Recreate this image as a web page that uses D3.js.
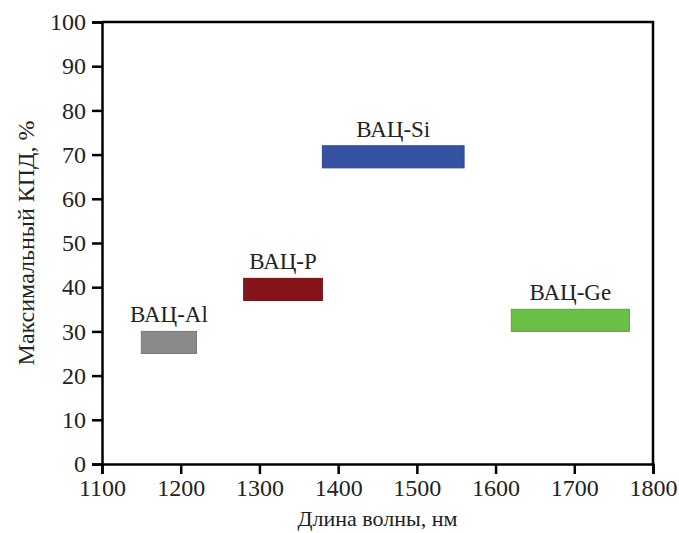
<!DOCTYPE html>
<html>
<head>
<meta charset="utf-8">
<script src="https://cdn.jsdelivr.net/npm/d3@7"></script>
</head>
<body style="margin:0">
<script>
// data
var names = ["ВАЦ-Al", "ВАЦ-P", "ВАЦ-Si", "ВАЦ-Ge"];
var waveFrom = [1150, 1280, 1380, 1620];
var waveTo = [1220, 1380, 1560, 1770];
var effLow = [25, 37, 67, 30];
var effHigh = [30, 42, 72, 35];
var colors = ["#8a8a8a", "#85141a", "#3552a3", "#6abf45"];
var xTicks = [1100, 1200, 1300, 1400, 1500, 1600, 1700, 1800];
var yTicks = [0, 10, 20, 30, 40, 50, 60, 70, 80, 90, 100];

var W = 679, H = 533;
var pLeft = 102, pRight = 653, pTop = 22, pBottom = 464;

var svg = d3.select("body").append("svg")
    .attr("width", W)
    .attr("height", H)
    .attr("font-family", "Liberation Serif")
    .style("display", "block");

var x = d3.scaleLinear().domain([1100, 1800]).range([pLeft, pRight]);
var y = d3.scaleLinear().domain([0, 100]).range([pBottom, pTop]);

// frame lines (top and right)
svg.append("path")
    .attr("d", "M" + pLeft + "," + pTop + "H" + pRight + "V" + pBottom)
    .attr("fill", "none")
    .attr("stroke", "#000")
    .attr("stroke-width", 2.5);

var xAxis = svg.append("g")
    .attr("transform", "translate(0," + pBottom + ")")
    .call(d3.axisBottom(x).tickValues(xTicks).tickSize(10).tickPadding(5).tickFormat(d3.format("d")));

var yAxis = svg.append("g")
    .attr("transform", "translate(" + pLeft + ",0)")
    .call(d3.axisLeft(y).tickValues(yTicks).tickSize(10).tickPadding(6).tickFormat(d3.format("d")));

[xAxis, yAxis].forEach(function(a) {
  a.attr("font-family", "Liberation Serif").attr("font-size", 24);
  a.select(".domain").attr("stroke", "#000").attr("stroke-width", 2.5);
  a.selectAll(".tick line").attr("stroke", "#000").attr("stroke-width", 2.5);
  a.selectAll(".tick text").attr("fill", "#222");
});

// bars
svg.selectAll("rect.bar").data(names).enter().append("rect")
    .attr("class", "bar")
    .attr("x", function(d, i) { return x(waveFrom[i]); })
    .attr("width", function(d, i) { return x(waveTo[i]) - x(waveFrom[i]); })
    .attr("y", function(d, i) { return y(effHigh[i]); })
    .attr("height", function(d, i) { return y(effLow[i]) - y(effHigh[i]); })
    .attr("fill", function(d, i) { return colors[i]; })
    .attr("stroke", function(d, i) { return d3.color(colors[i]).darker(0.4); })
    .attr("stroke-width", 1);

// bar labels
svg.selectAll("text.lab").data(names).enter().append("text")
    .attr("class", "lab")
    .attr("x", function(d, i) { return x((waveFrom[i] + waveTo[i]) / 2); })
    .attr("y", function(d, i) { return y(effHigh[i]) - 9; })
    .attr("text-anchor", "middle")
    .attr("fill", "#222")
    .attr("font-size", 23)
    .text(function(d) { return d; });

// axis titles
svg.append("text")
    .attr("x", (pLeft + pRight) / 2)
    .attr("y", 526)
    .attr("text-anchor", "middle")
    .attr("fill", "#222")
    .attr("font-size", 22)
    .text("Длина волны, нм");

svg.append("text")
    .attr("transform", "translate(34," + (pTop + pBottom) / 2 + ") rotate(-90)")
    .attr("text-anchor", "middle")
    .attr("fill", "#222")
    .attr("font-size", 24)
    .text("Максимальный КПД, %");
</script>
</body>
</html>
